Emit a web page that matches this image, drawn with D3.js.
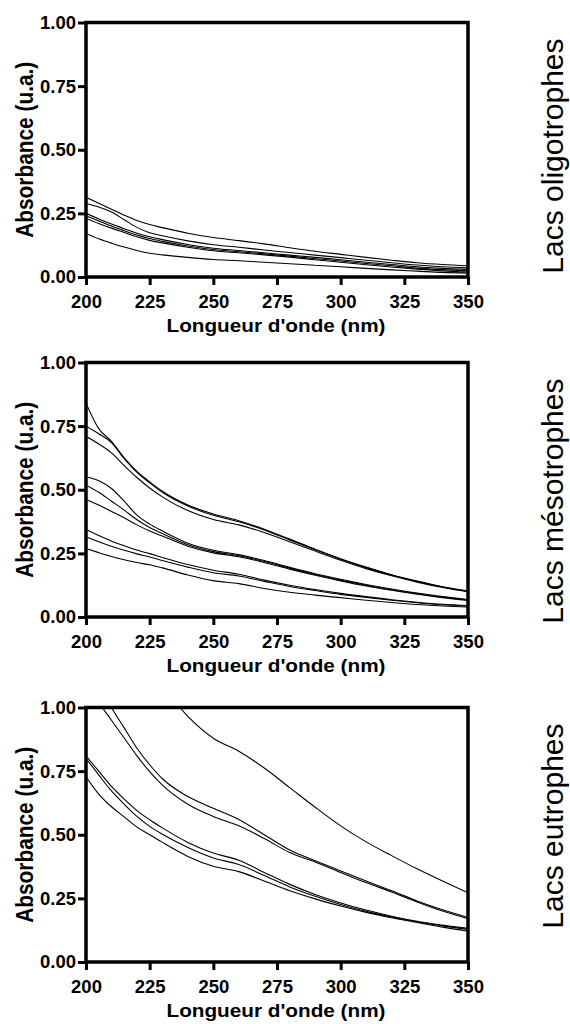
<!DOCTYPE html>
<html>
<head>
<meta charset="utf-8">
<script src="https://cdn.jsdelivr.net/npm/d3@7/dist/d3.min.js"></script>
<style>
  body { margin: 0; background: #fff; }
  svg { display: block; }
</style>
</head>
<body>
<script>
// Wavelength grid (nm) shared by every spectrum
const wavelengths = [200, 205, 210, 215, 220, 225, 230, 240, 250, 260, 270, 280, 290, 300, 310, 320, 330, 340, 350];

// Oligotrophic lakes: absorbance spectra
const oligotrophes = [
  [0.313, 0.290, 0.266, 0.243, 0.222, 0.206, 0.194, 0.172, 0.155, 0.143, 0.130, 0.115, 0.101, 0.089, 0.077, 0.066, 0.056, 0.049, 0.044],
  [0.289, 0.275, 0.255, 0.225, 0.195, 0.174, 0.162, 0.142, 0.127, 0.117, 0.106, 0.096, 0.086, 0.076, 0.066, 0.056, 0.047, 0.040, 0.036],
  [0.250, 0.228, 0.208, 0.190, 0.172, 0.158, 0.147, 0.128, 0.113, 0.104, 0.095, 0.086, 0.077, 0.068, 0.058, 0.049, 0.040, 0.034, 0.030],
  [0.241, 0.220, 0.200, 0.182, 0.165, 0.151, 0.140, 0.122, 0.108, 0.099, 0.091, 0.082, 0.072, 0.063, 0.053, 0.044, 0.035, 0.029, 0.024],
  [0.230, 0.210, 0.192, 0.175, 0.158, 0.144, 0.134, 0.117, 0.103, 0.095, 0.087, 0.078, 0.068, 0.058, 0.048, 0.039, 0.031, 0.024, 0.019],
  [0.171, 0.150, 0.133, 0.118, 0.104, 0.093, 0.087, 0.077, 0.069, 0.064, 0.058, 0.052, 0.046, 0.040, 0.034, 0.028, 0.023, 0.018, 0.015]
];

// Mesotrophic lakes
const mesotrophes = [
  [0.840, 0.740, 0.690, 0.625, 0.572, 0.531, 0.494, 0.440, 0.405, 0.378, 0.345, 0.306, 0.266, 0.229, 0.196, 0.166, 0.141, 0.119, 0.103],
  [0.750, 0.720, 0.685, 0.622, 0.568, 0.527, 0.490, 0.436, 0.400, 0.374, 0.342, 0.303, 0.264, 0.227, 0.194, 0.165, 0.140, 0.118, 0.101],
  [0.710, 0.680, 0.645, 0.595, 0.548, 0.507, 0.472, 0.418, 0.383, 0.362, 0.332, 0.296, 0.259, 0.223, 0.190, 0.162, 0.137, 0.116, 0.099],
  [0.551, 0.535, 0.505, 0.455, 0.400, 0.365, 0.338, 0.290, 0.262, 0.245, 0.222, 0.195, 0.170, 0.148, 0.128, 0.110, 0.094, 0.080, 0.069],
  [0.518, 0.490, 0.455, 0.420, 0.382, 0.352, 0.328, 0.284, 0.257, 0.241, 0.218, 0.192, 0.167, 0.145, 0.125, 0.107, 0.092, 0.078, 0.067],
  [0.462, 0.440, 0.415, 0.390, 0.362, 0.338, 0.318, 0.278, 0.252, 0.237, 0.214, 0.188, 0.164, 0.142, 0.122, 0.105, 0.090, 0.076, 0.065],
  [0.344, 0.320, 0.298, 0.280, 0.263, 0.249, 0.234, 0.206, 0.184, 0.168, 0.145, 0.125, 0.108, 0.093, 0.080, 0.068, 0.058, 0.050, 0.045],
  [0.315, 0.296, 0.278, 0.262, 0.248, 0.236, 0.222, 0.196, 0.174, 0.161, 0.140, 0.120, 0.104, 0.089, 0.077, 0.066, 0.056, 0.048, 0.043],
  [0.269, 0.253, 0.238, 0.225, 0.214, 0.205, 0.193, 0.165, 0.143, 0.131, 0.112, 0.097, 0.086, 0.076, 0.066, 0.057, 0.049, 0.043, 0.039]
];

// Eutrophic lakes (the strongest absorbers run off the top of the scale)
const eutrophes = [
  [1.500, 1.420, 1.350, 1.270, 1.200, 1.140, 1.085, 0.965, 0.879, 0.828, 0.762, 0.685, 0.608, 0.535, 0.472, 0.418, 0.366, 0.318, 0.272],
  [1.200, 1.100, 1.000, 0.920, 0.840, 0.775, 0.720, 0.650, 0.604, 0.560, 0.500, 0.440, 0.398, 0.358, 0.318, 0.280, 0.240, 0.205, 0.175],
  [1.100, 1.020, 0.950, 0.880, 0.810, 0.748, 0.695, 0.620, 0.572, 0.535, 0.485, 0.430, 0.393, 0.352, 0.312, 0.275, 0.236, 0.200, 0.170],
  [0.810, 0.750, 0.690, 0.640, 0.595, 0.559, 0.527, 0.470, 0.428, 0.400, 0.352, 0.305, 0.265, 0.232, 0.204, 0.180, 0.160, 0.145, 0.132],
  [0.800, 0.735, 0.672, 0.620, 0.572, 0.533, 0.502, 0.450, 0.409, 0.383, 0.340, 0.295, 0.258, 0.226, 0.199, 0.177, 0.158, 0.142, 0.128],
  [0.728, 0.660, 0.610, 0.570, 0.530, 0.500, 0.470, 0.415, 0.376, 0.355, 0.318, 0.280, 0.248, 0.220, 0.195, 0.174, 0.155, 0.137, 0.121]
];

const panelLabels = ["Lacs oligotrophes", "Lacs mésotrophes", "Lacs eutrophes"];
const xTicks = [200, 225, 250, 275, 300, 325, 350];
const yTicks = [0, 0.25, 0.5, 0.75, 1.0];
const xTitle = "Longueur d'onde (nm)";
const yTitle = "Absorbance (u.a.)";

const W = 570, H = 1024;
const plotLeft = 86, plotRight = 468, plotHeight = 254.5;
const panelTops = [22.5, 362.5, 707.5];
const FONT = "'Liberation Sans', Arial, Helvetica, sans-serif";

const svg = d3.select("body").append("svg")
  .attr("width", W).attr("height", H);

const x = d3.scaleLinear().domain([200, 350]).range([plotLeft, plotRight]);

const panels = [oligotrophes, mesotrophes, eutrophes];

panels.forEach((series, i) => {
  const top = panelTops[i];
  const bottom = top + plotHeight;
  const y = d3.scaleLinear().domain([0, 1]).range([bottom, top]);

  const g = svg.append("g");

  // clip spectra to the plotting frame
  const clipId = "clip" + i;
  svg.append("clipPath").attr("id", clipId)
    .append("rect")
    .attr("x", plotLeft).attr("y", top)
    .attr("width", plotRight - plotLeft).attr("height", plotHeight);

  const line = d3.line()
    .x((d, k) => x(wavelengths[k]))
    .y(d => y(d))
    .curve(d3.curveMonotoneX);

  g.append("g").attr("clip-path", `url(#${clipId})`)
    .selectAll("path")
    .data(series)
    .join("path")
    .attr("d", line)
    .attr("fill", "none")
    .attr("stroke", "#000")
    .attr("stroke-width", 1.1);

  // y axis
  const yAxis = g.append("g")
    .attr("transform", `translate(${plotLeft},0)`)
    .call(d3.axisLeft(y).tickValues(yTicks).tickFormat(d3.format(".2f"))
      .tickSize(8).tickSizeOuter(0).tickPadding(2));
  yAxis.select(".domain").remove();
  yAxis.selectAll(".tick line").attr("stroke", "#000").attr("stroke-width", 3);
  yAxis.selectAll(".tick text")
    .attr("font-family", FONT).attr("font-weight", "bold")
    .attr("font-size", "18.5px").attr("fill", "#000");

  // x axis
  const xAxis = g.append("g")
    .attr("transform", `translate(0,${bottom})`)
    .call(d3.axisBottom(x).tickValues(xTicks).tickFormat(d3.format("d"))
      .tickSize(8).tickSizeOuter(0).tickPadding(10));
  xAxis.select(".domain").remove();
  xAxis.selectAll(".tick line").attr("stroke", "#000").attr("stroke-width", 3);
  xAxis.selectAll(".tick text")
    .attr("font-family", FONT).attr("font-weight", "bold")
    .attr("font-size", "18.5px").attr("fill", "#000");

  // frame
  g.append("rect")
    .attr("x", plotLeft).attr("y", top)
    .attr("width", plotRight - plotLeft).attr("height", plotHeight)
    .attr("fill", "none").attr("stroke", "#000").attr("stroke-width", 3.5);

  // axis titles
  g.append("text")
    .attr("x", (plotLeft + plotRight) / 2 - 1)
    .attr("y", bottom + 55)
    .attr("text-anchor", "middle")
    .attr("font-family", FONT).attr("font-weight", "bold")
    .attr("font-size", "19px")
    .attr("textLength", 219).attr("lengthAdjust", "spacingAndGlyphs")
    .text(xTitle);

  g.append("text")
    .attr("transform", `translate(33,${(top + bottom) / 2}) rotate(-90)`)
    .attr("text-anchor", "middle")
    .attr("font-family", FONT).attr("font-weight", "bold")
    .attr("font-size", "24.5px")
    .attr("textLength", 176).attr("lengthAdjust", "spacingAndGlyphs")
    .text(yTitle);

  // group label on the right
  g.append("text")
    .attr("transform", `translate(563,${top + 16}) rotate(-90)`)
    .attr("text-anchor", "end")
    .attr("font-family", FONT)
    .attr("font-size", "30px")
    .text(panelLabels[i]);
});
</script>
</body>
</html>
